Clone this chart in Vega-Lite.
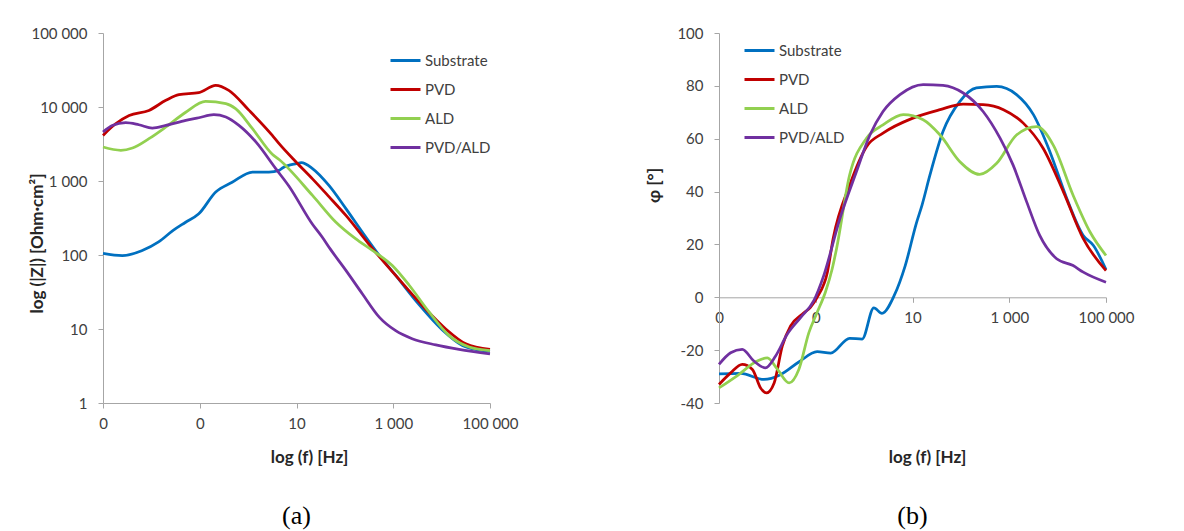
{
  "$schema": "https://vega.github.io/schema/vega-lite/v6.json",
  "background": "white",
  "padding": {"left": 28, "top": 26, "right": 0, "bottom": 0},
  "autosize": {"type": "pad"},
  "datasets": {
    "imp": [
      {"s":"Substrate","f":0.001,"z":105},{"s":"Substrate","f":0.00251,"z":98},{"s":"Substrate","f":0.00631,"z":114},{"s":"Substrate","f":0.0141,"z":150},{"s":"Substrate","f":0.0282,"z":215},{"s":"Substrate","f":0.0501,"z":275},{"s":"Substrate","f":0.0955,"z":360},{"s":"Substrate","f":0.214,"z":710},{"s":"Substrate","f":0.468,"z":960},{"s":"Substrate","f":1.23,"z":1320},{"s":"Substrate","f":2.69,"z":1320},{"s":"Substrate","f":4.37,"z":1390},{"s":"Substrate","f":5.13,"z":1500},{"s":"Substrate","f":10,"z":1720},{"s":"Substrate","f":12.6,"z":1770},{"s":"Substrate","f":21.4,"z":1470},{"s":"Substrate","f":46.8,"z":870},{"s":"Substrate","f":105,"z":423},{"s":"Substrate","f":229,"z":204},{"s":"Substrate","f":513,"z":99},{"s":"Substrate","f":1122,"z":53},{"s":"Substrate","f":3388,"z":21.5},{"s":"Substrate","f":10233,"z":9.8},{"s":"Substrate","f":26915,"z":6.0},{"s":"Substrate","f":50119,"z":5.3},{"s":"Substrate","f":100000,"z":5.0},
      {"s":"PVD","f":0.001,"z":4130},{"s":"PVD","f":0.00182,"z":5940},{"s":"PVD","f":0.00347,"z":7700},{"s":"PVD","f":0.00891,"z":9000},{"s":"PVD","f":0.01995,"z":12300},{"s":"PVD","f":0.0372,"z":14700},{"s":"PVD","f":0.0955,"z":15600},{"s":"PVD","f":0.214,"z":19600},{"s":"PVD","f":0.398,"z":16800},{"s":"PVD","f":1.047,"z":9000},{"s":"PVD","f":3.16,"z":4130},{"s":"PVD","f":4.37,"z":3190},{"s":"PVD","f":10,"z":1780},{"s":"PVD","f":21.4,"z":1070},{"s":"PVD","f":46.8,"z":615},{"s":"PVD","f":105,"z":343},{"s":"PVD","f":372,"z":122},{"s":"PVD","f":1122,"z":53},{"s":"PVD","f":3981,"z":20.8},{"s":"PVD","f":12023,"z":10.1},{"s":"PVD","f":31623,"z":6.3},{"s":"PVD","f":100000,"z":5.3},
      {"s":"ALD","f":0.001,"z":2880},{"s":"ALD","f":0.00234,"z":2600},{"s":"ALD","f":0.00407,"z":2790},{"s":"ALD","f":0.00891,"z":3730},{"s":"ALD","f":0.01995,"z":5370},{"s":"ALD","f":0.0513,"z":8500},{"s":"ALD","f":0.132,"z":11900},{"s":"ALD","f":0.347,"z":11100},{"s":"ALD","f":0.55,"z":9490},{"s":"ALD","f":1.23,"z":5090},{"s":"ALD","f":3.16,"z":2300},{"s":"ALD","f":4.37,"z":1950},{"s":"ALD","f":21.4,"z":638},{"s":"ALD","f":64.6,"z":279},{"s":"ALD","f":166,"z":166},{"s":"ALD","f":372,"z":115},{"s":"ALD","f":955,"z":72},{"s":"ALD","f":2138,"z":39},{"s":"ALD","f":5495,"z":17},{"s":"ALD","f":14125,"z":8.2},{"s":"ALD","f":37154,"z":5.7},{"s":"ALD","f":100000,"z":5.1},
      {"s":"PVD/ALD","f":0.001,"z":4590},{"s":"PVD/ALD","f":0.00155,"z":5640},{"s":"PVD/ALD","f":0.00295,"z":6140},{"s":"PVD/ALD","f":0.0055,"z":5760},{"s":"PVD/ALD","f":0.01047,"z":5200},{"s":"PVD/ALD","f":0.01995,"z":5640},{"s":"PVD/ALD","f":0.0513,"z":6600},{"s":"PVD/ALD","f":0.0955,"z":7160},{"s":"PVD/ALD","f":0.195,"z":7870},{"s":"PVD/ALD","f":0.347,"z":7330},{"s":"PVD/ALD","f":0.646,"z":5640},{"s":"PVD/ALD","f":1.445,"z":3370},{"s":"PVD/ALD","f":3.72,"z":1470},{"s":"PVD/ALD","f":7.0,"z":850},{"s":"PVD/ALD","f":21.4,"z":260},{"s":"PVD/ALD","f":33.9,"z":175},{"s":"PVD/ALD","f":50.1,"z":120},{"s":"PVD/ALD","f":105,"z":62},{"s":"PVD/ALD","f":229,"z":30},{"s":"PVD/ALD","f":513,"z":14.5},{"s":"PVD/ALD","f":1122,"z":9.5},{"s":"PVD/ALD","f":2455,"z":7.4},{"s":"PVD/ALD","f":7586,"z":6.1},{"s":"PVD/ALD","f":22909,"z":5.3},{"s":"PVD/ALD","f":100000,"z":4.6}
    ],
    "phase": [
      {"s":"Substrate","f":0.001,"p":-29.0},{"s":"Substrate","f":0.00282,"p":-28.8},{"s":"Substrate","f":0.00851,"p":-31.1},{"s":"Substrate","f":0.0186,"p":-29.3},{"s":"Substrate","f":0.0447,"p":-24.5},{"s":"Substrate","f":0.107,"p":-20.6},{"s":"Substrate","f":0.204,"p":-21.1},{"s":"Substrate","f":0.501,"p":-15.5},{"s":"Substrate","f":0.912,"p":-15.8},{"s":"Substrate","f":1.585,"p":-4.0},{"s":"Substrate","f":2.34,"p":-6.1},{"s":"Substrate","f":4.17,"p":0.6},{"s":"Substrate","f":7.08,"p":12},{"s":"Substrate","f":12.0,"p":28},{"s":"Substrate","f":15.8,"p":35},{"s":"Substrate","f":22.9,"p":46.2},{"s":"Substrate","f":42.7,"p":62.7},{"s":"Substrate","f":95.5,"p":74.1},{"s":"Substrate","f":209,"p":79.2},{"s":"Substrate","f":550,"p":79.8},{"s":"Substrate","f":1413,"p":76.7},{"s":"Substrate","f":3162,"p":69.1},{"s":"Substrate","f":6918,"p":55.1},{"s":"Substrate","f":15488,"p":37.4},{"s":"Substrate","f":33884,"p":23.4},{"s":"Substrate","f":54954,"p":19.6},{"s":"Substrate","f":100000,"p":10.5},
      {"s":"PVD","f":0.001,"p":-33.0},{"s":"PVD","f":0.00174,"p":-28.6},{"s":"PVD","f":0.00302,"p":-25.4},{"s":"PVD","f":0.0049,"p":-27.3},{"s":"PVD","f":0.00724,"p":-34.3},{"s":"PVD","f":0.00955,"p":-36.2},{"s":"PVD","f":0.0138,"p":-32.4},{"s":"PVD","f":0.0204,"p":-18.4},{"s":"PVD","f":0.0302,"p":-10.8},{"s":"PVD","f":0.0525,"p":-6.4},{"s":"PVD","f":0.0776,"p":-3.8},{"s":"PVD","f":0.107,"p":0},{"s":"PVD","f":0.174,"p":9.5},{"s":"PVD","f":0.229,"p":22.2},{"s":"PVD","f":0.501,"p":42.4},{"s":"PVD","f":1.12,"p":57.0},{"s":"PVD","f":2.455,"p":62.1},{"s":"PVD","f":10.2,"p":67.8},{"s":"PVD","f":37.2,"p":71.0},{"s":"PVD","f":112,"p":73.1},{"s":"PVD","f":288,"p":72.9},{"s":"PVD","f":759,"p":71.0},{"s":"PVD","f":1950,"p":65.9},{"s":"PVD","f":5012,"p":56.4},{"s":"PVD","f":13183,"p":39.9},{"s":"PVD","f":33884,"p":22.2},{"s":"PVD","f":100000,"p":10.1},
      {"s":"ALD","f":0.001,"p":-34.3},{"s":"ALD","f":0.0024,"p":-29.6},{"s":"ALD","f":0.00617,"p":-24.1},{"s":"ALD","f":0.01,"p":-22.9},{"s":"ALD","f":0.0162,"p":-27.3},{"s":"ALD","f":0.0282,"p":-32.4},{"s":"ALD","f":0.0447,"p":-27.3},{"s":"ALD","f":0.0724,"p":-13.3},{"s":"ALD","f":0.107,"p":-5.7},{"s":"ALD","f":0.158,"p":1.9},{"s":"ALD","f":0.219,"p":10.8},{"s":"ALD","f":0.269,"p":18.4},{"s":"ALD","f":0.501,"p":46.2},{"s":"ALD","f":1.12,"p":60.2},{"s":"ALD","f":2.455,"p":65.2},{"s":"ALD","f":6.46,"p":69.1},{"s":"ALD","f":16.6,"p":67.2},{"s":"ALD","f":37.2,"p":61.4},{"s":"ALD","f":95.5,"p":51.3},{"s":"ALD","f":245,"p":46.5},{"s":"ALD","f":550,"p":50.7},{"s":"ALD","f":1413,"p":61.4},{"s":"ALD","f":3715,"p":64.6},{"s":"ALD","f":8128,"p":57.6},{"s":"ALD","f":20893,"p":38.6},{"s":"ALD","f":46774,"p":24.7},{"s":"ALD","f":100000,"p":15.8},
      {"s":"PVD/ALD","f":0.001,"p":-25.4},{"s":"PVD/ALD","f":0.00174,"p":-21.0},{"s":"PVD/ALD","f":0.00302,"p":-19.7},{"s":"PVD/ALD","f":0.00525,"p":-24.1},{"s":"PVD/ALD","f":0.00912,"p":-26.7},{"s":"PVD/ALD","f":0.0148,"p":-22.2},{"s":"PVD/ALD","f":0.0257,"p":-14.0},{"s":"PVD/ALD","f":0.049,"p":-7.6},{"s":"PVD/ALD","f":0.0912,"p":-1.3},{"s":"PVD/ALD","f":0.145,"p":8},{"s":"PVD/ALD","f":0.316,"p":29.8},{"s":"PVD/ALD","f":0.692,"p":47.5},{"s":"PVD/ALD","f":1.318,"p":61.4},{"s":"PVD/ALD","f":2.455,"p":70.3},{"s":"PVD/ALD","f":5.5,"p":76.7},{"s":"PVD/ALD","f":16.6,"p":80.5},{"s":"PVD/ALD","f":42.7,"p":80.2},{"s":"PVD/ALD","f":112,"p":77.3},{"s":"PVD/ALD","f":288,"p":70.3},{"s":"PVD/ALD","f":646,"p":60.2},{"s":"PVD/ALD","f":1202,"p":50.0},{"s":"PVD/ALD","f":2291,"p":36.1},{"s":"PVD/ALD","f":4266,"p":23.4},{"s":"PVD/ALD","f":9550,"p":14.6},{"s":"PVD/ALD","f":20893,"p":12.0},{"s":"PVD/ALD","f":33884,"p":9.5},{"s":"PVD/ALD","f":100000,"p":5.7}
    ]
  },
  "config": {
    "font": "Lato",
    "view": {"stroke": null},
    "axis": {
      "grid": false,
      "domainColor": "#a6a6a6",
      "tickColor": "#a6a6a6",
      "tickSize": 5,
      "labelFont": "Lato",
      "labelFontSize": 15,
      "labelColor": "#404040",
      "titleFont": "Lato",
      "titleFontSize": 17,
      "titleFontWeight": "bold",
      "titleColor": "#262626",
      "labelFlush": false,
      "labelOverlap": false
    },
    "legend": {
      "padding": 0,
      "labelFont": "Lato",
      "labelFontSize": 15,
      "labelColor": "#404040",
      "symbolType": "stroke",
      "symbolSize": 900,
      "symbolStrokeWidth": 3,
      "labelOffset": 3,
      "rowPadding": 4
    },
    "title": {"font": "Liberation Serif", "fontSize": 26, "fontWeight": "normal", "color": "#000000"}
  },
  "spacing": 126,
  "resolve": {"legend": {"color": "independent"}},
  "hconcat": [
    {
      "width": 387,
      "height": 370,
      "data": {"name": "imp"},
      "title": {"text": "(a)", "orient": "bottom", "anchor": "middle", "frame": "group", "offset": 38},
      "mark": {"type": "line", "interpolate": "monotone", "strokeWidth": 2.75},
      "encoding": {
        "x": {
          "field": "f", "type": "quantitative",
          "scale": {"type": "log", "domain": [0.001, 100000], "nice": false},
          "axis": {
            "values": [0.001, 0.1, 10, 1000, 100000],
            "labelExpr": "replace(format(datum.value, ',.0f'), ',', ' ')",
            "labelPadding": 8,
            "title": "log (f) [Hz]",
            "titleX": 206, "titleY": 54, "titleBaseline": "middle", "titleAlign": "center"
          }
        },
        "y": {
          "field": "z", "type": "quantitative",
          "scale": {"type": "log", "domain": [1, 100000], "nice": false},
          "axis": {
            "values": [1, 10, 100, 1000, 10000, 100000],
            "labelExpr": "replace(format(datum.value, ',.0f'), ',', ' ')",
            "labelPadding": 11,
            "title": "log (|Z|) [Ohm·cm²]",
            "titleX": -66, "titleY": 210, "titleBaseline": "middle", "titleAlign": "center", "titleAngle": -90
          }
        },
        "color": {
          "field": "s", "type": "nominal",
          "scale": {"domain": ["Substrate", "PVD", "ALD", "PVD/ALD"], "range": ["#0070c0", "#c00000", "#92d050", "#7030a0"]},
          "legend": {"title": null, "orient": "none", "legendX": 286, "legendY": 11}
        }
      }
    },
    {
      "width": 387,
      "height": 370,
      "data": {"name": "phase"},
      "title": {"text": "(b)", "orient": "bottom", "anchor": "middle", "frame": "group", "offset": 38},
      "mark": {"type": "line", "interpolate": "monotone", "strokeWidth": 2.75},
      "encoding": {
        "x": {
          "field": "f", "type": "quantitative",
          "scale": {"type": "log", "domain": [0.001, 100000], "nice": false},
          "axis": {
            "values": [0.001, 0.1, 10, 1000, 100000],
            "labelExpr": "replace(format(datum.value, ',.0f'), ',', ' ')",
            "labelPadding": 8,
            "offset": -105.7,
            "title": "log (f) [Hz]",
            "titleX": 208, "titleY": 160, "titleBaseline": "middle", "titleAlign": "center"
          }
        },
        "y": {
          "field": "p", "type": "quantitative",
          "scale": {"domain": [-40, 100], "nice": false, "zero": false},
          "axis": {
            "values": [-40, -20, 0, 20, 40, 60, 80, 100],
            "labelExpr": "'' + datum.value",
            "labelPadding": 11,
            "title": "φ [°]",
            "titleX": -65, "titleY": 152, "titleBaseline": "middle", "titleAlign": "center", "titleAngle": -90
          }
        },
        "color": {
          "field": "s", "type": "nominal",
          "scale": {"domain": ["Substrate", "PVD", "ALD", "PVD/ALD"], "range": ["#0070c0", "#c00000", "#92d050", "#7030a0"]},
          "legend": {"title": null, "orient": "none", "legendX": 24, "legendY": 1}
        }
      }
    }
  ]
}
